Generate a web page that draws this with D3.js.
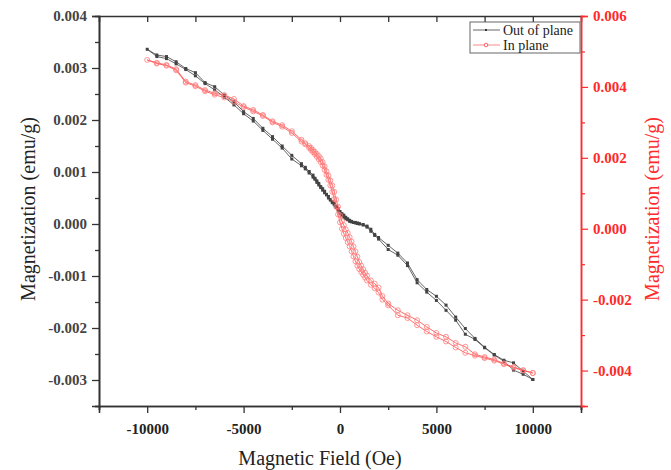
<!DOCTYPE html>
<html>
<head>
<meta charset="utf-8">
<script src="https://cdn.jsdelivr.net/npm/d3@7"></script>
<style>
  body { margin: 0; background: #fff; }
  svg text { font-family: "Liberation Serif", "Times New Roman", serif; }
</style>
</head>
<body>
<div id="chart"></div>
<script>
// Out of plane loop: down from +10 kOe, then back up
const outField = [
  10000, 9500, 9000, 8500, 8000, 7500, 7000, 6500, 6000, 5500, 5000, 4500, 4000, 3500, 3000, 2500,
  2000, 1800, 1600, 1400, 1200, 1000, 900, 800, 700, 600, 500, 400, 300, 200, 100, 0,
  -100, -200, -300, -400, -500, -600, -700, -800, -900, -1000, -1100, -1200, -1300, -1400, -1600, -1800, -2000,
  -2500, -3000, -3500, -4000, -4500, -5000, -5500, -6000, -6500, -7000, -7500, -8000, -8500, -9000, -9500, -10000,
  -9500, -9000, -8500, -8000, -7500, -7000, -6500, -6000, -5500, -5000, -4500, -4000, -3500, -3000, -2500,
  -2000, -1800, -1600, -1400, -1300, -1200, -1100, -1000, -900, -800, -700, -600, -500, -400, -300, -200, -100, 0,
  100, 200, 300, 400, 500, 600, 700, 800, 900, 1000, 1200, 1400, 1600, 1800, 2000,
  2500, 3000, 3500, 4000, 4500, 5000, 5500, 6000, 6500, 7000, 7500, 8000, 8500, 9000, 9500, 10000
];
const outMoment = [
  -0.00299, -0.00283, -0.00267, -0.00262, -0.00251, -0.00237, -0.00220, -0.00201, -0.00179, -0.00156, -0.00139, -0.00126, -0.00107, -0.00075, -0.00056, -0.00041,
  -0.00026, -0.00020, -0.00010, -0.00004, -0.00001, 0.00001, 0.00002, 0.00003, 0.00003, 0.00005, 0.00007, 0.00010, 0.00013, 0.00017, 0.00020, 0.00024,
  0.00030, 0.00034, 0.00040, 0.00043, 0.00047, 0.00053, 0.00057, 0.00063, 0.00068, 0.00072, 0.00078, 0.00083, 0.00088, 0.00094, 0.00101, 0.00109, 0.00116,
  0.00132, 0.00150, 0.00168, 0.00184, 0.00203, 0.00216, 0.00235, 0.00248, 0.00264, 0.00272, 0.00291, 0.00299, 0.00312, 0.00322, 0.00325, 0.00336,
  0.00322, 0.00318, 0.00308, 0.00297, 0.00285, 0.00270, 0.00258, 0.00244, 0.00229, 0.00212, 0.00198, 0.00180, 0.00163, 0.00146, 0.00125,
  0.00112, 0.00106, 0.00098, 0.00090, 0.00086, 0.00080, 0.00075, 0.00070, 0.00065, 0.00060, 0.00056, 0.00050, 0.00046, 0.00041, 0.00037, 0.00032, 0.00027, 0.00021,
  0.00017, 0.00013, 0.00010, 0.00008, 0.00005, 0.00004, 0.00003, 0.00002, 0.00001, 0.00000, -0.00002, -0.00006, -0.00014, -0.00022, -0.00029,
  -0.00049, -0.00060, -0.00080, -0.00113, -0.00131, -0.00147, -0.00166, -0.00185, -0.00212, -0.00222, -0.00238, -0.00252, -0.00264, -0.00281, -0.00289, -0.00299
];

// In plane loop (right axis)
const inField = [
  10000, 9500, 9000, 8500, 8000, 7500, 7000, 6500, 6000, 5500, 5000, 4500, 4000, 3500, 3000, 2500,
  2200, 2000, 1800, 1600, 1400, 1300, 1200, 1100, 1000, 900, 800, 700, 600, 500, 400, 300, 200, 100, 0,
  -100, -200, -300, -400, -500, -600, -700, -800, -900, -1000, -1100, -1200, -1300, -1400, -1500, -1600, -1800, -2000,
  -2500, -3000, -3500, -4000, -4500, -5000, -5500, -6000, -6500, -7000, -7500, -8000, -8500, -9000, -9500, -10000,
  -9500, -9000, -8500, -8000, -7500, -7000, -6500, -6000, -5500, -5000, -4500, -4000, -3500, -3000, -2500,
  -2000, -1800, -1600, -1500, -1400, -1300, -1200, -1100, -1000, -900, -800, -700, -600, -500, -400, -300, -200, -100, 0,
  100, 200, 300, 400, 500, 600, 700, 800, 900, 1000, 1100, 1200, 1300, 1400, 1600, 1800, 2000, 2200,
  2500, 3000, 3500, 4000, 4500, 5000, 5500, 6000, 6500, 7000, 7500, 8000, 8500, 9000, 9500, 10000
];
const inMoment = [
  -0.00407, -0.00399, -0.00390, -0.00380, -0.00369, -0.00362, -0.00354, -0.00333, -0.00322, -0.00305, -0.00294, -0.00277, -0.00258, -0.00244, -0.00230, -0.00211,
  -0.00190, -0.00166, -0.00155, -0.00146, -0.00132, -0.00124, -0.00114, -0.00104, -0.00094, -0.00079, -0.00064, -0.00050, -0.00036, -0.00024, -0.00012, -0.00002, 0.00010, 0.00022, 0.00038,
  0.00062, 0.00082, 0.00104, 0.00122, 0.00136, 0.00150, 0.00162, 0.00176, 0.00188, 0.00198, 0.00205, 0.00211, 0.00217, 0.00222, 0.00228, 0.00233, 0.00241, 0.00251,
  0.00275, 0.00292, 0.00303, 0.00321, 0.00335, 0.00346, 0.00366, 0.00377, 0.00382, 0.00391, 0.00405, 0.00415, 0.00450, 0.00462, 0.00468, 0.00476,
  0.00466, 0.00460, 0.00447, 0.00412, 0.00402, 0.00388, 0.00378, 0.00370, 0.00358, 0.00343, 0.00331, 0.00318, 0.00300, 0.00288, 0.00270,
  0.00246, 0.00238, 0.00228, 0.00222, 0.00216, 0.00210, 0.00203, 0.00196, 0.00188, 0.00178, 0.00166, 0.00152, 0.00138, 0.00122, 0.00104, 0.00084, 0.00062, 0.00040, 0.00018,
  0.00000, -0.00014, -0.00026, -0.00038, -0.00050, -0.00064, -0.00078, -0.00092, -0.00104, -0.00114, -0.00122, -0.00130, -0.00138, -0.00146, -0.00158, -0.00168, -0.00180, -0.00200,
  -0.00216, -0.00244, -0.00252, -0.00272, -0.00290, -0.00305, -0.00318, -0.00335, -0.00350, -0.00358, -0.00365, -0.00372, -0.00382, -0.00392, -0.00400, -0.00407
];

const xTicks = [-10000, -5000, 0, 5000, 10000];
const leftTicks = [-0.003, -0.002, -0.001, 0, 0.001, 0.002, 0.003, 0.004];
const rightTicks = [-0.004, -0.002, 0, 0.002, 0.004, 0.006];
const seriesNames = ["Out of plane", "In plane"];

const W = 671, H = 470;
const box = { left: 99, right: 581, top: 16, bottom: 406 };
const red = "#ff2a2a";
const serif = "'Liberation Serif', 'Times New Roman', serif";

const svg = d3.select("#chart").append("svg").attr("width", W).attr("height", H)
  .attr("font-family", serif);

const x = d3.scaleLinear().domain([-12500, 12500]).range([box.left, box.right]);
const yL = d3.scaleLinear().domain([-0.0035, 0.004]).range([box.bottom, box.top]);
const yR = d3.scaleLinear().domain([-0.005, 0.006]).range([box.bottom, box.top]);

const fmt3 = d => d3.format(".3f")(d).replace("−", "-");

function styleLabels(g, col) {
  g.attr("font-family", serif);
  g.selectAll("text").attr("font-family", serif).attr("font-size", 15)
    .attr("font-weight", "bold").attr("fill", col);
}

// bottom axis: majors 5000, minors 2500
const xMinor = d3.range(-12500, 12501, 2500).filter(v => v % 5000 !== 0);
svg.append("g").attr("class", "blk").attr("transform", `translate(0,${box.bottom})`)
  .call(d3.axisBottom(x).tickValues(xMinor).tickSize(4).tickFormat(""));
svg.append("g").attr("class", "blk").attr("transform", `translate(0,${box.bottom})`)
  .call(d3.axisBottom(x).tickValues(xTicks).tickSize(7).tickPadding(10).tickFormat(d => String(d)))
  .call(g => styleLabels(g, "#222"));

// top axis, ticks pointing in
svg.append("g").attr("class", "blk").attr("transform", `translate(0,${box.top})`)
  .call(d3.axisBottom(x).tickValues(d3.range(-10000, 10001, 2500)).tickSize(6).tickFormat(""));

// left axis
const lMinor = [-0.0035, -0.0025, -0.0015, -0.0005, 0.0005, 0.0015, 0.0025, 0.0035];
svg.append("g").attr("class", "blk").attr("transform", `translate(${box.left},0)`)
  .call(d3.axisLeft(yL).tickValues(lMinor).tickSize(4).tickFormat(""));
svg.append("g").attr("class", "blk").attr("transform", `translate(${box.left},0)`)
  .call(d3.axisLeft(yL).tickValues(leftTicks).tickSize(7).tickPadding(5).tickFormat(fmt3))
  .call(g => styleLabels(g, "#444"));

// right axis (red)
const rMinor = [-0.005, -0.003, -0.001, 0.001, 0.003, 0.005];
const rightAxis = svg.append("g").attr("transform", `translate(${box.right},0)`);
rightAxis.append("g").call(d3.axisRight(yR).tickValues(rMinor).tickSize(4).tickFormat(""));
rightAxis.append("g")
  .call(d3.axisRight(yR).tickValues(rightTicks).tickSize(7).tickPadding(5).tickFormat(fmt3))
  .call(g => styleLabels(g, red));
rightAxis.selectAll("path, line").attr("stroke", red).attr("stroke-width", 1.2);

svg.selectAll(".blk .domain").attr("stroke", "#333").attr("stroke-width", 1.6);
svg.selectAll(".blk .tick line").attr("stroke", "#333").attr("stroke-width", 1.3);
rightAxis.selectAll(".domain").attr("stroke-width", 1.5);

// titles
svg.append("text").attr("x", 320).attr("y", 465).attr("font-family", serif)
  .attr("text-anchor", "middle").attr("font-size", 20).attr("fill", "#222").text("Magnetic Field (Oe)");
svg.append("text").attr("transform", "translate(35,209) rotate(-90)").attr("font-family", serif)
  .attr("text-anchor", "middle").attr("font-size", 20).attr("fill", "#222").text("Magnetization (emu/g)");
svg.append("text").attr("transform", "translate(659,209) rotate(-90)").attr("font-family", serif)
  .attr("text-anchor", "middle").attr("font-size", 20).attr("fill", red).text("Magnetization (emu/g)");

// data
const outData = outField.map((h, i) => [h, outMoment[i]]);
const inData = inField.map((h, i) => [h, inMoment[i]]);
const plot = svg.append("g");

plot.append("path").datum(outData)
  .attr("fill", "none").attr("stroke", "#555").attr("stroke-width", 0.9)
  .attr("d", d3.line().x(d => x(d[0])).y(d => yL(d[1])));
plot.selectAll(".outpt").data(outData).join("rect").attr("class", "outpt")
  .attr("x", d => x(d[0]) - 1.5).attr("y", d => yL(d[1]) - 1.5)
  .attr("width", 3).attr("height", 3).attr("fill", "#444");

plot.append("path").datum(inData)
  .attr("fill", "none").attr("stroke", "#ff4848").attr("stroke-width", 0.8)
  .attr("d", d3.line().x(d => x(d[0])).y(d => yR(d[1])));
plot.selectAll(".inpt").data(inData).join("circle").attr("class", "inpt")
  .attr("cx", d => x(d[0])).attr("cy", d => yR(d[1])).attr("r", 2.5)
  .attr("fill", "none").attr("stroke", "#ff7c7c").attr("stroke-width", 0.8);

// legend
const lg = svg.append("g").attr("transform", "translate(470,22)");
lg.append("rect").attr("width", 110).attr("height", 31).attr("fill", "#fff").attr("stroke", "#666").attr("stroke-width", 1);
seriesNames.forEach((name, i) => {
  const cy = 8 + i * 15;
  const col = i === 0 ? "#555" : "#ff7c7c";
  lg.append("line").attr("x1", 3).attr("x2", 30).attr("y1", cy).attr("y2", cy).attr("stroke", col).attr("stroke-width", 0.9);
  if (i === 0) lg.append("rect").attr("x", 15).attr("y", cy - 1).attr("width", 2).attr("height", 2).attr("fill", "#333");
  else lg.append("circle").attr("cx", 16).attr("cy", cy).attr("r", 1.8).attr("fill", "#fff").attr("stroke", red).attr("stroke-width", 0.7);
  lg.append("text").attr("x", 33).attr("y", cy + 4.5).attr("font-family", serif)
    .attr("font-size", 14).attr("fill", "#222").text(name);
});
</script>
</body>
</html>
